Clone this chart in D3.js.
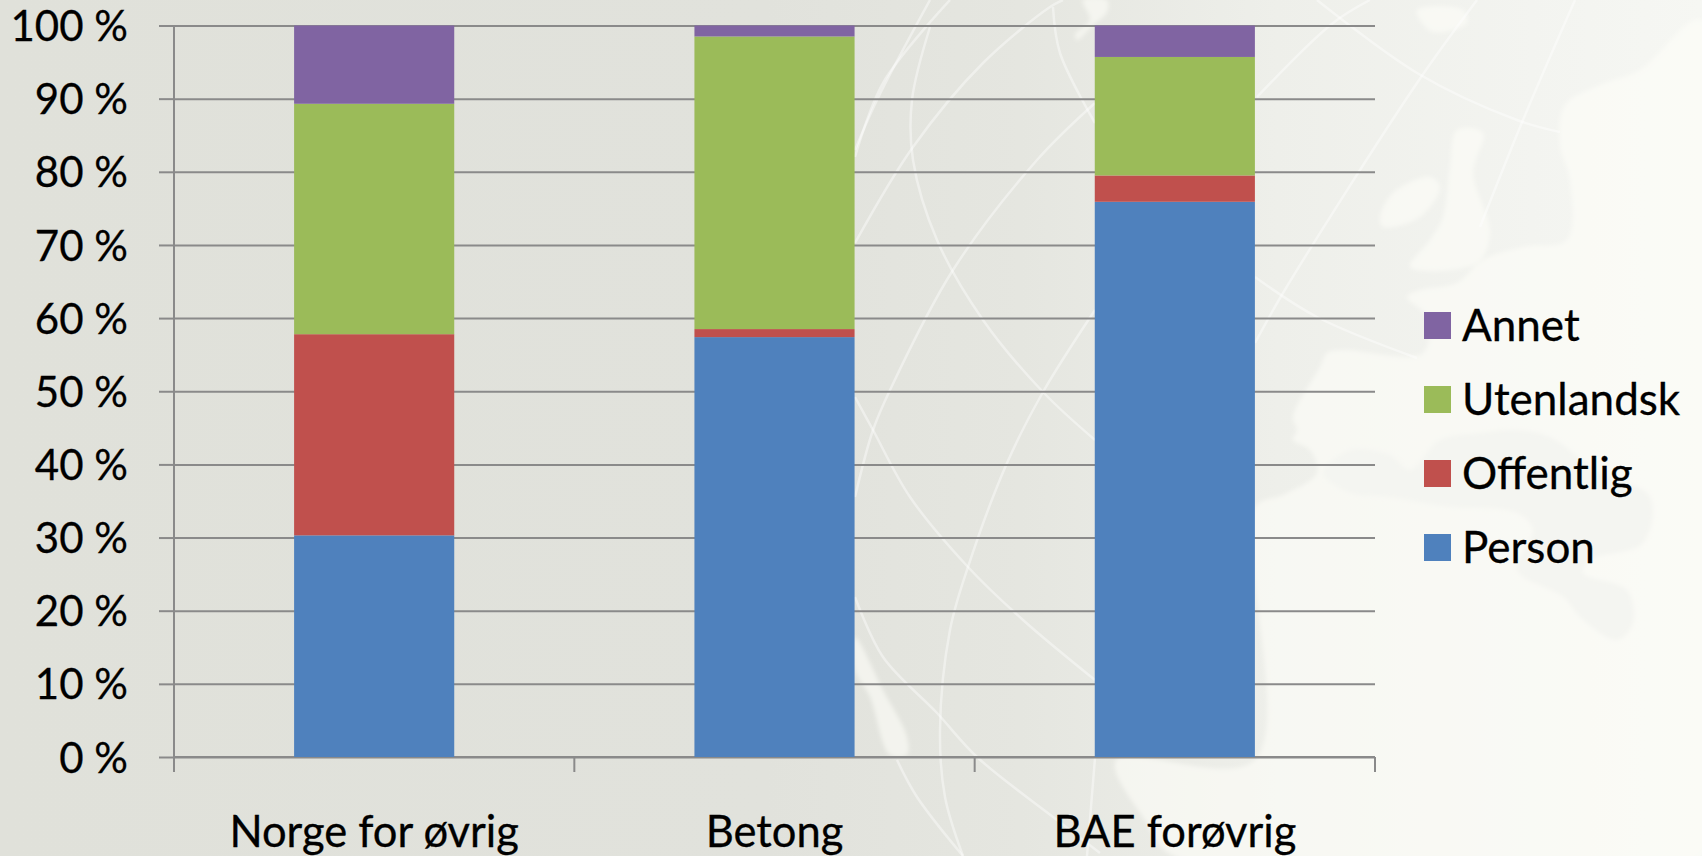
<!DOCTYPE html>
<html>
<head>
<meta charset="utf-8">
<script src="https://cdn.jsdelivr.net/npm/d3@7"></script>
<style>
html, body { margin: 0; padding: 0; background: #f8f9f5; overflow: hidden; }
svg { display: block; }
text { font-family: Lato, "Open Sans", sans-serif; fill: #000; stroke: #000; stroke-width: 0.3px; }
</style>
</head>
<body>
<svg id="chart"></svg>
<script>
const categories = ['Norge for øvrig', 'Betong', 'BAE forøvrig']
const seriesNames = ['Person', 'Offentlig', 'Utenlandsk', 'Annet']
const person = [30.3, 57.4, 75.9]
const offentlig = [27.5, 1.1, 3.6]
const utenlandsk = [31.5, 40.0, 16.2]
const annet = [10.7, 1.5, 4.3]
const colors = ['#4f81bd', '#c0504d', '#9bbb59', '#8064a2']
const yTicks = [0, 10, 20, 30, 40, 50, 60, 70, 80, 90, 100]

// backdrop picture: flight paths and land shapes, not chart data
const flightPaths = [
	[[950,0],[883,83],[855,157]],
	[[930,0],[877,100],[855,150]],
	[[930,27],[912,100],[913,160],[937,240],[983,320],[1043,392],[1095,440]],
	[[1063,0],[1050,7],[983,63],[913,147],[855,243]],
	[[1095,103],[1037,160],[953,270],[890,390],[873,430],[855,497]],
	[[1053,7],[1060,53],[1095,123]],
	[[1095,310],[1043,392],[1007,463],[968,567],[950,630],[940,730],[945,797],[963,856]],
	[[855,397],[873,430],[910,497],[968,567],[1023,620],[1095,680]],
	[[855,597],[883,657],[937,713],[977,757],[1057,820],[1100,853]],
	[[897,760],[917,797],[963,856]],
	[[1370,0],[1333,23],[1257,97]],
	[[1317,0],[1417,73],[1517,120],[1560,132]],
	[[1477,0],[1417,83],[1283,293],[1255,343]],
	[[1575,0],[1523,120],[1480,227]],
	[[1255,277],[1317,317],[1417,358]],
	[[1095,758],[1087,856]],
]
const landShapes = [
	[[1116,760],[1145,820],[1174,856],[1702,856],[1702,20],[1640,70],[1600,85],[1565,105],[1560,145],[1570,180],[1567,240],[1523,247],[1483,260],[1457,283],[1420,290],[1407,297],[1427,317],[1423,353],[1343,350],[1327,353],[1320,367],[1293,417],[1297,430],[1293,440],[1310,450],[1317,473],[1283,495],[1255,507],[1255,760]],
	[[1380,217],[1393,193],[1430,177],[1440,187],[1420,217],[1383,227]],
	[[1457,130],[1483,133],[1473,173],[1490,233],[1477,263],[1410,267],[1430,240],[1443,217],[1450,167]],
	[[1417,10],[1463,10],[1467,23],[1433,32],[1420,20]],
	[[1083,0],[1107,0],[1107,12],[1093,25],[1077,40],[1075,35],[1090,20]],
	[[855,637],[883,690],[907,737],[907,755],[890,755],[870,697],[855,670]],
]
const innerSea = [[1323,473],[1350,493],[1390,497],[1450,507],[1517,513],[1533,530],[1517,570],[1563,597],[1583,620],[1617,640],[1633,623],[1627,590],[1583,573],[1590,560],[1643,543],[1650,497],[1600,473],[1550,437],[1517,430],[1480,433],[1440,440],[1410,470],[1390,455],[1350,450]]

const outerWidth = 1702
const outerHeight = 856
const margin = {top: 25.5, right: 327, bottom: 99, left: 174}
const width = outerWidth - margin.left - margin.right
const height = outerHeight - margin.top - margin.bottom
const axisColor = '#8a8a8a'

const rows = categories.map((c, i) => ({
	category: c,
	Person: person[i],
	Offentlig: offentlig[i],
	Utenlandsk: utenlandsk[i],
	Annet: annet[i],
}))

const svg = d3.select('#chart')
	.attr('width', outerWidth)
	.attr('height', outerHeight)

// page background
const defs = svg.append('defs')
const grad = defs.append('linearGradient').attr('id', 'bg')
grad.append('stop').attr('offset', '0%').attr('stop-color', '#e0e1da')
grad.append('stop').attr('offset', '45%').attr('stop-color', '#e1e2dc')
grad.append('stop').attr('offset', '60%').attr('stop-color', '#e5e6e0')
grad.append('stop').attr('offset', '75%').attr('stop-color', '#eeefea')
grad.append('stop').attr('offset', '90%').attr('stop-color', '#f3f4f0')
grad.append('stop').attr('offset', '100%').attr('stop-color', '#f6f7f3')
svg.append('rect').attr('width', outerWidth).attr('height', outerHeight).attr('fill', 'url(#bg)')
defs.append('filter').attr('id', 'soft')
	.append('feGaussianBlur').attr('stdDeviation', 2)

const backdrop = svg.append('g')
const landLine = d3.line().curve(d3.curveCatmullRomClosed)
const pathLine = d3.line().curve(d3.curveCatmullRom)
const landGroup = backdrop.append('g').attr('filter', 'url(#soft)')
landGroup.selectAll('path.land')
	.data(landShapes)
	.join('path')
	.attr('class', 'land')
	.attr('d', landLine)
	.attr('fill', '#fdfef9')
	.attr('fill-opacity', 0.6)
landGroup.append('path')
	.attr('d', landLine(innerSea))
	.attr('fill', '#f4f5f1')
backdrop.selectAll('path.flight')
	.data(flightPaths)
	.join('path')
	.attr('class', 'flight')
	.attr('d', pathLine)
	.attr('fill', 'none')
	.attr('stroke', '#ffffff')
	.attr('stroke-opacity', 0.42)
	.attr('stroke-width', 2.5)

const g = svg.append('g')
	.attr('transform', `translate(${margin.left},${margin.top})`)

const xScale = d3.scaleBand()
	.domain(categories)
	.range([0, width])
	.paddingInner(0.6)
	.paddingOuter(0.3)
const yScale = d3.scaleLinear()
	.domain([0, 100])
	.range([height, 0])

// gridlines and y axis
const yAxis = d3.axisLeft(yScale)
	.tickValues(yTicks)
	.tickFormat(d => `${d} %`)
	.tickSize(15)
	.tickPadding(31)
const yAxisGroup = g.append('g').call(yAxis)
yAxisGroup.selectAll('.tick line').clone()
	.attr('x2', width)
yAxisGroup.selectAll('line').attr('stroke', axisColor).attr('stroke-width', 2)
yAxisGroup.select('.domain').attr('stroke', axisColor).attr('stroke-width', 2).attr('d', `M0,0V${height + 15}`)
yAxisGroup.selectAll('text').attr('font-size', 42).attr('dy', '0.36em').style('font-family', 'Lato')

// x axis, ticks sit between the categories
const step = xScale.step()
const xLine = g.append('g').attr('transform', `translate(0,${height})`)
xLine.selectAll('line')
	.data(d3.range(1, categories.length + 1))
	.join('line')
	.attr('x1', d => d * step)
	.attr('x2', d => d * step)
	.attr('y1', 0)
	.attr('y2', 15)
	.attr('stroke', axisColor)
	.attr('stroke-width', 2)
xLine.append('line')
	.attr('x2', width)
	.attr('stroke', axisColor)
	.attr('stroke-width', 2)

xLine.selectAll('text')
	.data(categories)
	.join('text')
	.attr('x', d => xScale(d) + xScale.bandwidth() / 2)
	.attr('y', 90)
	.attr('text-anchor', 'middle')
	.attr('font-size', 43.5)
	.text(d => d)

// bars
const stacked = d3.stack().keys(seriesNames)(rows)
g.append('g').selectAll('g')
	.data(stacked)
	.join('g')
	.attr('fill', (d, i) => colors[i])
	.selectAll('rect')
	.data(d => d)
	.join('rect')
	.attr('x', d => xScale(d.data.category))
	.attr('y', d => yScale(d[1]))
	.attr('width', xScale.bandwidth())
	.attr('height', d => yScale(d[0]) - yScale(d[1]))

// legend
const legendRows = seriesNames.slice().reverse()
const legendColors = colors.slice().reverse()
const legend = svg.append('g').attr('transform', 'translate(1424,312)')
const legendItem = legend.selectAll('g')
	.data(legendRows)
	.join('g')
	.attr('transform', (d, i) => `translate(0,${i * 74})`)
legendItem.append('rect')
	.attr('width', 27)
	.attr('height', 27)
	.attr('fill', (d, i) => legendColors[i])
legendItem.append('text')
	.attr('x', 38)
	.attr('y', 29)
	.attr('font-size', 44)
	.text(d => d)
</script>
</body>
</html>
